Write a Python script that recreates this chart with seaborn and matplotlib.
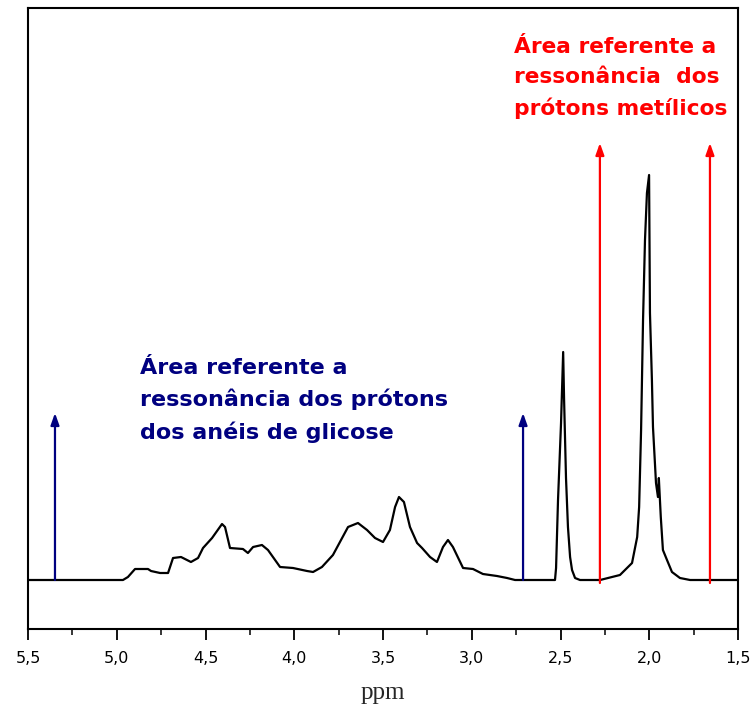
import matplotlib
matplotlib.use("Agg")
import matplotlib.pyplot as plt
import seaborn as sns
import numpy as np
from matplotlib.ticker import MultipleLocator, FuncFormatter

# ---- data (ppm, intensity in arbitrary units) ----
ppm = [5.500, 4.965, 4.937, 4.897, 4.824, 4.807, 4.756, 4.711, 4.683, 4.638,
       4.582, 4.542, 4.514, 4.463, 4.407, 4.390, 4.362, 4.289, 4.261, 4.232,
       4.182, 4.148, 4.080, 4.007, 3.928, 3.894, 3.844, 3.782, 3.697, 3.641,
       3.590, 3.545, 3.500, 3.461, 3.432, 3.410, 3.382, 3.348, 3.308, 3.280,
       3.235, 3.196, 3.162, 3.134, 3.106, 3.049, 2.993, 2.937, 2.858, 2.801,
       2.756, 2.531, 2.525, 2.514, 2.497, 2.485, 2.480, 2.469, 2.458, 2.446,
       2.435, 2.418, 2.390, 2.277, 2.165, 2.097, 2.068, 2.057, 2.046, 2.035,
       2.024, 2.013, 2.001, 1.996, 1.985, 1.979, 1.962, 1.951, 1.946, 1.935,
       1.923, 1.900, 1.872, 1.827, 1.770, 1.500]
intensity = [0, 0, 3, 11, 11, 9, 7, 7, 22, 23,
             18, 22, 32, 42, 56, 53, 32, 31, 27, 33,
             35, 30, 13, 12, 9, 8, 13, 25, 53, 57,
             50, 42, 38, 50, 73, 83, 78, 53, 37, 32,
             23, 18, 33, 40, 33, 12, 11, 6, 4, 2,
             0, 0, 12, 80, 157, 228, 182, 102, 53, 23,
             10, 2, 0, 0, 5, 17, 43, 73, 150, 260,
             340, 387, 405, 267, 200, 153, 97, 83, 102, 63,
             30, 20, 8, 2, 0, 0]

# integration-region markers
blue_marks = [5.348, 2.711]
blue_top = 167
red_marks = [2.278, 1.658]
red_top = 437

tick_values = [5.5, 5.0, 4.5, 4.0, 3.5, 3.0, 2.5, 2.0, 1.5]

blue_text = "Área referente a\nressonância dos prótons\ndos anéis de glicose"
red_text = "Área referente a\nressonância  dos\nprótons metílicos"

sns.set_style("ticks")
plt.rcParams['font.family'] = ['DejaVu Sans']

fig = plt.figure(figsize=(7.52, 7.09), dpi=100)
ax = fig.add_axes([28/752, 1-629/709, (738-28)/752, (629-8)/709])

sns.lineplot(x=ppm, y=intensity, ax=ax, sort=False, estimator=None,
             color="black", linewidth=1.6)

navy = "#000080"
for xm in blue_marks:
    ax.annotate("", xy=(xm, blue_top), xytext=(xm, 0),
                arrowprops=dict(arrowstyle="-|>,head_length=0.7,head_width=0.25",
                                color=navy, lw=1.6, shrinkA=0, shrinkB=0))
for xm in red_marks:
    ax.annotate("", xy=(xm, red_top), xytext=(xm, -3),
                arrowprops=dict(arrowstyle="-|>,head_length=0.7,head_width=0.25",
                                color="#ff0000", lw=1.6, shrinkA=0, shrinkB=0))

ax.text(5.5-(140-28)/177.5, 580-358, blue_text, color=navy, fontsize=16,
        fontweight="bold", ha="left", va="top", linespacing=1.62)
ax.text(5.5-(514-28)/177.5, 580-37, red_text, color="#ff0000", fontsize=15.7,
        fontweight="bold", ha="left", va="top", linespacing=1.62)

ax.set_xlim(5.5, 1.5)
ax.set_ylim(-49, 572)
ax.set_xticks(tick_values)
ax.xaxis.set_minor_locator(MultipleLocator(0.25))
ax.xaxis.set_major_formatter(FuncFormatter(lambda v, p: f"{v:.1f}".replace(".", ",")))
ax.set_yticks([])
ax.tick_params(axis="x", which="major", direction="out", length=8, width=1.3,
               labelsize=11.5, pad=8, colors="black")
ax.tick_params(axis="x", which="minor", direction="out", length=4, width=1.3)
for s in ax.spines.values():
    s.set_visible(True)
    s.set_color("black")
    s.set_linewidth(1.5)
ax.set_xlabel("ppm", family=["Liberation Serif", "DejaVu Serif"], fontsize=18,
              labelpad=11)
ax.set_ylabel("")

fig.savefig("out.png", dpi=100, facecolor="white")
